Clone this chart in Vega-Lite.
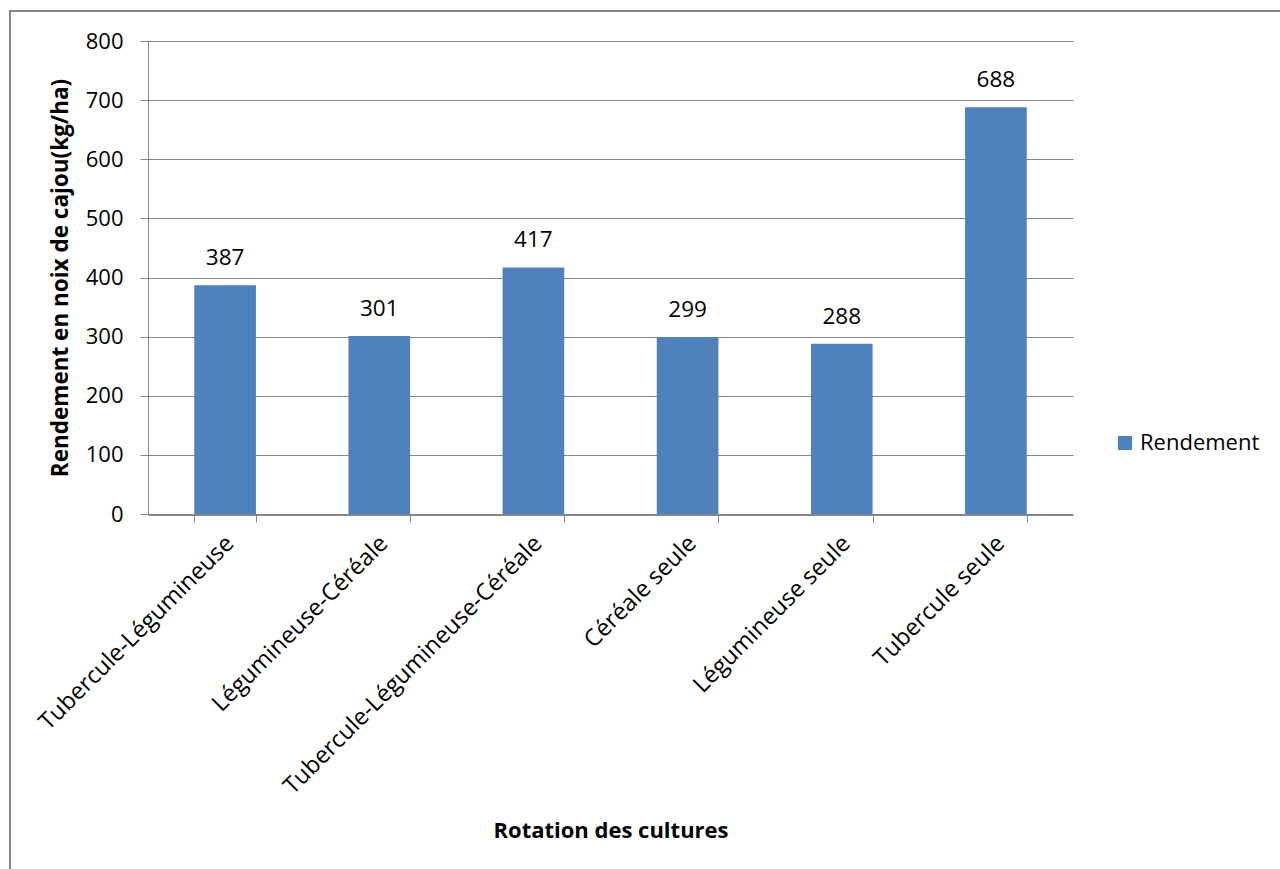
{
  "$schema": "https://vega.github.io/schema/vega-lite/v6.json",
  "width": 1271,
  "height": 859,
  "autosize": {"type": "none"},
  "padding": {"left": 10, "top": 11, "right": 0, "bottom": 0},
  "background": "white",
  "config": {
    "font": "Open Sans",
    "view": {"stroke": "#868686", "strokeWidth": 2},
    "axis": {
      "domainColor": "#868686",
      "tickColor": "#868686",
      "gridColor": "#868686",
      "labelColor": "#000000",
      "titleColor": "#000000",
      "labelFont": "Open Sans",
      "titleFont": "Open Sans"
    }
  },
  "data": {
    "values": [
      {"rotation": "Tubercule-Légumineuse", "rendement": 387, "serie": "Rendement"},
      {"rotation": "Légumineuse-Céréale", "rendement": 301, "serie": "Rendement"},
      {"rotation": "Tubercule-Légumineuse-Céréale", "rendement": 417, "serie": "Rendement"},
      {"rotation": "Céréale seule", "rendement": 299, "serie": "Rendement"},
      {"rotation": "Légumineuse seule", "rendement": 288, "serie": "Rendement"},
      {"rotation": "Tubercule seule", "rendement": 688, "serie": "Rendement"}
    ]
  },
  "encoding": {
    "x": {
      "field": "rotation",
      "type": "nominal",
      "sort": null,
      "scale": {"range": [138, 1063], "paddingInner": 0.6, "paddingOuter": 0.3},
      "axis": {
        "title": "Rotation des cultures",
        "offset": -355,
        "titleFontSize": 22,
        "titleFontWeight": "bold",
        "titleBaseline": "alphabetic",
        "titleY": 322,
        "labelAngle": -45,
        "labelFontSize": 23.5,
        "labelPadding": 9,
        "labelOffset": -4,
        "labelLimit": 500,
        "tickBand": "extent",
        "tickSize": 7,
        "grid": false
      }
    },
    "y": {
      "field": "rendement",
      "type": "quantitative",
      "scale": {"domain": [0, 800], "range": [503, 30]},
      "axis": {
        "title": "Rendement en noix de cajou(kg/ha)",
        "offset": -138,
        "titleFontSize": 22.5,
        "titleFontWeight": "bold",
        "titlePadding": 13,
        "values": [0, 100, 200, 300, 400, 500, 600, 700, 800],
        "labelFontSize": 22,
        "labelPadding": 17,
        "tickSize": 8,
        "grid": true
      }
    }
  },
  "layer": [
    {
      "mark": {"type": "bar", "color": "#4F81BD"},
      "encoding": {
        "color": {
          "field": "serie",
          "type": "nominal",
          "scale": {"range": ["#4F81BD"]},
          "legend": {
            "title": null,
            "orient": "none",
            "legendX": 1104,
            "legendY": 421,
            "symbolType": "square",
            "symbolSize": 200,
            "symbolStrokeWidth": 0,
            "labelFontSize": 22,
            "labelColor": "#000000",
            "labelFont": "Open Sans"
          }
        }
      }
    },
    {
      "mark": {"type": "text", "baseline": "middle", "dy": -27, "fontSize": 22.5, "color": "#000000"},
      "encoding": {"text": {"field": "rendement", "type": "quantitative"}}
    }
  ]
}
